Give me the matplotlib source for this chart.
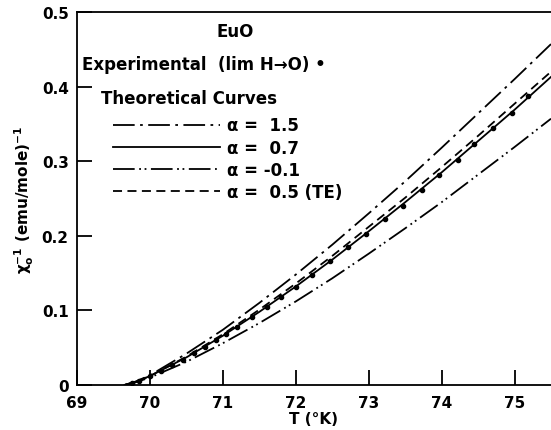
import matplotlib.pyplot as plt

T = [69.65, 69.8, 70.0, 70.5, 71.0, 71.5, 72.0, 72.5, 73.0, 73.5, 74.0, 74.5, 75.0, 75.5]

# inverse susceptibility for each theoretical curve
chi_a15 = [0, 0.0045, 0.013, 0.042, 0.074, 0.110, 0.148, 0.188, 0.230, 0.273, 0.318, 0.364, 0.410, 0.457]
chi_a07 = [0, 0.004, 0.012, 0.037, 0.066, 0.098, 0.132, 0.168, 0.206, 0.245, 0.285, 0.327, 0.369, 0.413]
chi_am01 = [0, 0.0035, 0.010, 0.031, 0.056, 0.083, 0.112, 0.143, 0.176, 0.210, 0.245, 0.282, 0.319, 0.357]
chi_te = [0, 0.004, 0.012, 0.038, 0.068, 0.101, 0.136, 0.173, 0.212, 0.251, 0.292, 0.334, 0.377, 0.420]

# experimental points (lim H -> 0)
T_exp = [69.75, 69.85, 70.0, 70.15, 70.3, 70.45, 70.6, 70.75, 70.9, 71.05, 71.2, 71.4, 71.6, 71.8,
         72.0, 72.22, 72.47, 72.72, 72.97, 73.22, 73.47, 73.73, 73.96, 74.22, 74.45, 74.71, 74.96, 75.19]
chi_exp = [0.003, 0.006, 0.012, 0.019, 0.027, 0.034, 0.043, 0.051, 0.060, 0.069, 0.078, 0.091, 0.105, 0.118,
           0.132, 0.148, 0.166, 0.185, 0.203, 0.223, 0.240, 0.262, 0.282, 0.302, 0.323, 0.345, 0.365, 0.387]

x_ticks = [69, 70, 71, 72, 73, 74, 75]
y_ticks = [0, 0.1, 0.2, 0.3, 0.4, 0.5]
y_tick_labels = ['0', '0.1', '0.2', '0.3', '0.4', '0.5']

plt.rcParams['font.family'] = 'DejaVu Sans'
plt.rcParams['font.weight'] = 'bold'

fig = plt.figure(figsize=(5.51, 4.31), dpi=100)
ax = fig.add_axes([0.1397, 0.1044, 0.8603, 0.8654])

lw = 1.3
ax.plot(T, chi_a15, color='black', lw=lw, linestyle=(0, (12, 3, 1.5, 3)), label='α =  1.5')
ax.plot(T, chi_a07, color='black', lw=lw, linestyle='-', label='α =  0.7')
ax.plot(T, chi_am01, color='black', lw=lw, linestyle=(0, (12, 2.5, 1, 2, 1, 2.5)), label='α = -0.1')
ax.plot(T, chi_te, color='black', lw=lw, linestyle=(0, (5, 3)), label='α =  0.5 (TE)')
ax.plot(T_exp, chi_exp, 'o', color='black', markersize=3)

ax.set_xlim(69, 75.5)
ax.set_ylim(0, 0.5)
ax.set_xticks(x_ticks)
ax.set_yticks(y_ticks)
ax.set_yticklabels(y_tick_labels)
ax.tick_params(direction='in', length=11, width=1.3, labelsize=11)
ax.tick_params(axis='x', pad=7)
ax.tick_params(axis='y', pad=6)
ax.spines['right'].set_visible(False)
for s in ['left', 'bottom', 'top']:
    ax.spines[s].set_linewidth(1.3)

ax.set_xlabel('T (°K)', fontsize=11, fontweight='bold', labelpad=1)
ax.set_ylabel(r'$\mathbf{\chi_o^{-1}}$ (emu/mole)$^{\mathbf{-1}}$', fontsize=11, fontweight='bold')

ax.text(0.334, 0.95, 'EuO', transform=ax.transAxes, ha='center', va='center', fontsize=12)
ax.text(0.01, 0.86, 'Experimental  (lim H\u2192O) \u2022', transform=ax.transAxes,
        ha='left', va='center', fontsize=12)
ax.text(0.05, 0.77, 'Theoretical Curves', transform=ax.transAxes, ha='left', va='center', fontsize=12)

ax.legend(loc='upper left', bbox_to_anchor=(0.076, 0.72), frameon=False, fontsize=12,
          handlelength=6.4, handletextpad=0.45, labelspacing=0.25, borderpad=0, borderaxespad=0)

plt.savefig('out.png', dpi=100)
